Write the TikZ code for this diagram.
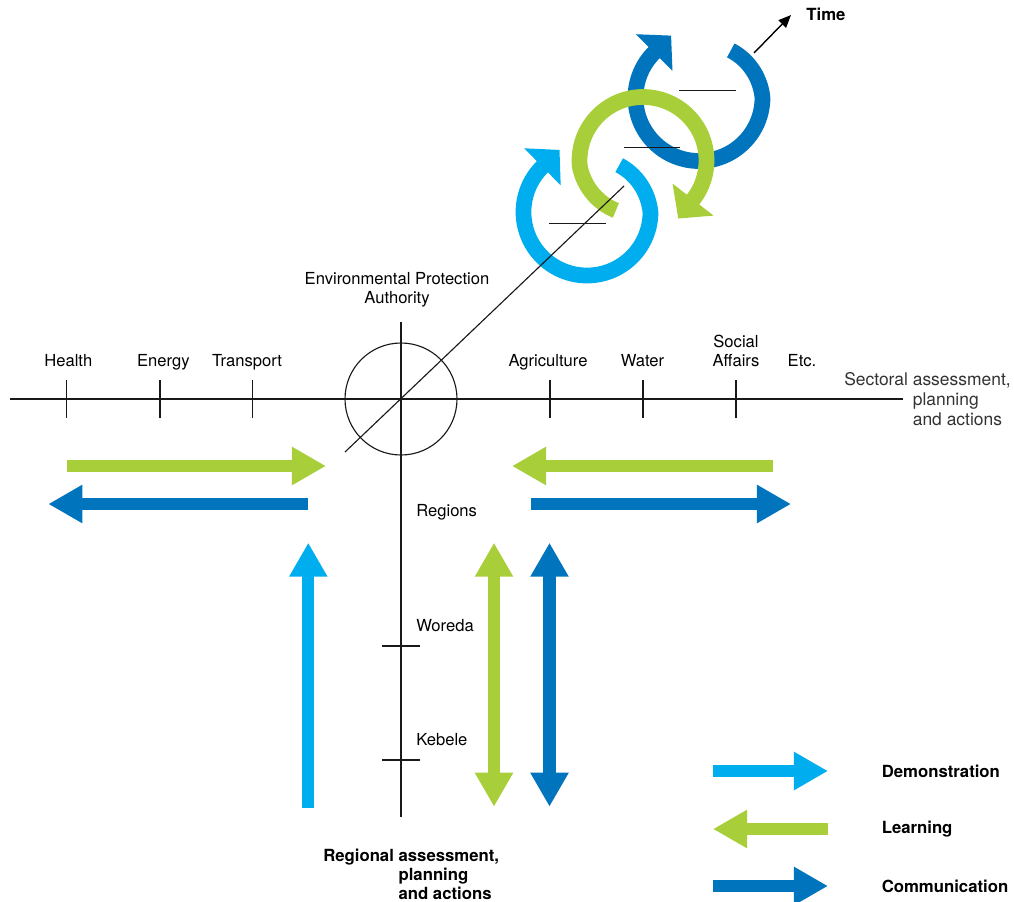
\documentclass[tikz,border=0pt]{standalone}
\usepackage{fontspec}
\setmainfont{TeX Gyre Heros}
\usepackage{xcolor}
\usetikzlibrary{arrows.meta,calc}
\definecolor{skyblue}{HTML}{00AEEF}
\definecolor{leafgreen}{HTML}{A8CF3A}
\definecolor{deepblue}{HTML}{0075BE}
\newcommand{\ringw}{11.2pt}
\tikzset{
  axisline/.style={line width=0.8pt, black!90},
  flow/.style={line width=8.8pt, >={Triangle[length=24.2pt,width=25.6pt]}},
  lbl/.style={inner sep=0pt},
  boldlbl/.style={inner sep=0pt, font=\fontsize{11.9}{13.5}\selectfont\bfseries}
}

\begin{document}
\begin{tikzpicture}[x=0.025cm, y=-0.025cm, font=\fontsize{11.8}{13.5}\selectfont]
    \useasboundingbox[fill=white] (0,0) rectangle (1014,902);
    % cycles over time
    \foreach \col/\cx/\cy/\s/\e in {deepblue/699/97.5/-56/225, skyblue/587/212/-55.5/225.4, leafgreen/643/160.5/118.5/398}{
        \pgfmathsetmacro{\ee}{\e+1}
        \draw[\col, line width=\ringw] plot[domain=\s:\ee, samples=120]
            ({\cx+(63.5-0.12*max(0,\s+56-(\x)))*cos(\x)}, {\cy+(63.5-0.12*max(0,\s+56-(\x)))*sin(\x)});
        \fill[\col] ($(\cx,\cy)+(\e:37.5)$) -- ($(\cx,\cy)+(\e:89.5)$) -- ($(\cx,\cy)+(\e:63.5)+(\e+90:24)$) -- cycle;
    }
    \draw[axisline] (679,90.3) -- (736,90.3);
    \draw[axisline] (623.5,147.3) -- (680,147.3);
    \draw[axisline] (549.3,223.3) -- (606,223.3);
    \node[boldlbl] (time) at (826,14) {Time};
    \draw[line width=1pt, -{Triangle[length=9pt,width=7.5pt]}] (754,53) -- (791,15);

    % axes
    \coordinate (centre) at (401,399);
    \draw[axisline] (10,399) -- (903,399);
    \draw[axisline] (401,322) -- (401,817);
    \draw[axisline] (centre) circle[radius=56];
    \draw[axisline] (345,452) -- (624,186);
    \foreach \x in {66.7,160,252.7,550,643,736}
        \draw[axisline] (\x,380) -- (\x,418);
    \foreach \y in {646,760}
        \draw[axisline] (382,\y) -- (420,\y);

    % labels
    \node[lbl, align=center] (epa) at (397,290) {Environmental Protection\\Authority};
    \node[lbl, anchor=base] (health) at (68.3,366.5) {Health};
    \node[lbl, anchor=base] (energy) at (163.3,366.5) {Energy};
    \node[lbl, anchor=base] (transport) at (247,366.5) {Transport};
    \node[lbl, anchor=base] (agri) at (548,366.5) {Agriculture};
    \node[lbl, anchor=base] (water) at (642.5,366.5) {Water};
    \node[lbl, align=center] (social) at (736,351) {Social\\Affairs};
    \node[lbl, anchor=base] (etc) at (802,366.5) {Etc.};
    \node[lbl, anchor=west, align=left, text=black!80, font=\fontsize{12.4}{14}\selectfont] (sectoral) at (844,399)
        {Sectoral assessment,\\\hphantom{Sectoral }planning\\\hphantom{Sectoral }and actions};
    \node[lbl, anchor=west] (regions) at (416,512) {Regions};
    \node[lbl, anchor=west] (woreda) at (416,626) {Woreda};
    \node[lbl, anchor=west] (kebele) at (416,740) {Kebele};
    \node[boldlbl, anchor=west, align=left] (regional) at (323,874)
        {Regional assessment,\\\hphantom{Regional }planning\\\hphantom{Regional }and actions};

    % flows
    \draw[flow, leafgreen, ->] (66.7,466) -- (326,466);
    \draw[flow, deepblue, ->] (308,504) -- (48.3,504);
    \draw[flow, skyblue, ->] (308.3,808) -- (308.3,542.7);
    \draw[flow, leafgreen, ->] (773,466) -- (512,466);
    \draw[flow, deepblue, ->] (531,504) -- (791,504);
    \draw[flow, leafgreen, <->] (494,542.7) -- (494,806.7);
    \draw[flow, deepblue, <->] (549.5,542.7) -- (549.5,806.7);

    % legend
    \draw[flow, skyblue, ->] (713,771) -- (828,771);
    \draw[flow, leafgreen, <-] (713,829) -- (828,829);
    \draw[flow, deepblue, ->] (713,886) -- (828,886);
    \node[boldlbl, anchor=west] (demo) at (881.5,771) {Demonstration};
    \node[boldlbl, anchor=west] (learn) at (881.5,829) {Learning};
    \node[boldlbl, anchor=west] (comm) at (881.5,886) {Communication};
\end{tikzpicture}
\end{document}
